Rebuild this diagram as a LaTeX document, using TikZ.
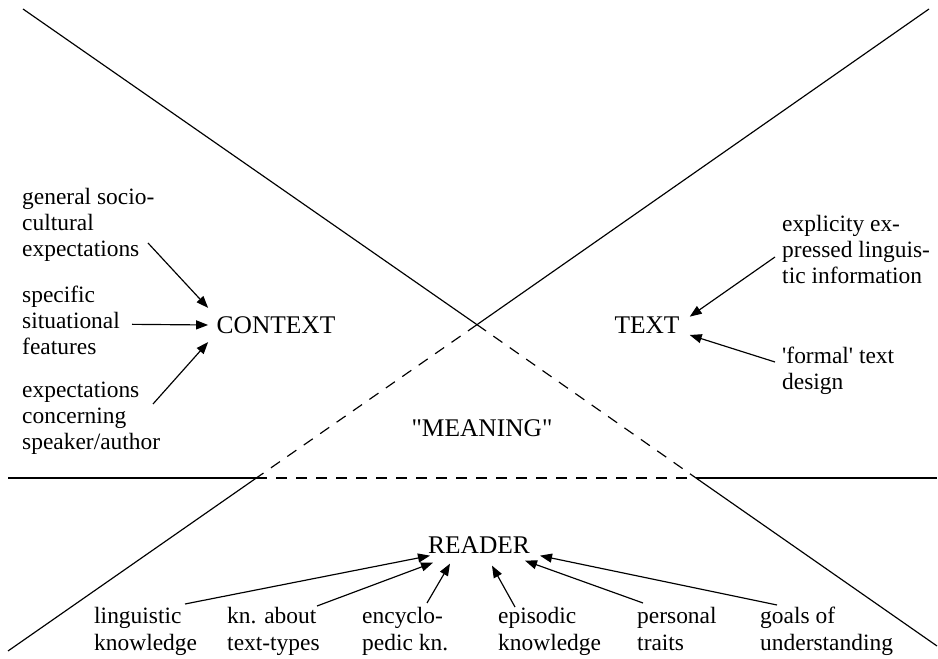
\documentclass[tikz,border=0pt]{standalone}
\usepackage{fontspec}
\setmainfont{Liberation Serif}
\usetikzlibrary{arrows.meta}

\begin{document}
\begin{tikzpicture}[
        lbl/.style={align=left, inner sep=0, anchor=base west, font=\fontsize{20}{22.2}\selectfont},
        big/.style={inner sep=0.25cm, font=\fontsize{21.7}{24}\selectfont},
        arr/.style={line width=1pt, -{Triangle[length=0.36cm, width=0.27cm]}},
        ln/.style={line width=1pt},
        dsh/.style={line width=1pt, dash pattern=on 0.33cm off 0.27cm}
    ]
    \useasboundingbox (0, 0) rectangle (28.14, 19.74);

    % the crossing lines
    \coordinate (tl) at (0.69, 19.47);  \coordinate (br) at (28.11, 0.36);
    \coordinate (tr) at (27.87, 19.47); \coordinate (bl) at (0.24, 0.21);
    \coordinate (hl) at (0.24, 5.4);    \coordinate (hr) at (28.11, 5.4);
    \coordinate (m) at (14.31, 10.0);   % top of the triangle
    \coordinate (a) at (7.69, 5.4);     \coordinate (b) at (20.88, 5.4);

    \draw[ln] (tl) -- (m); \draw[dsh] (m) -- (b); \draw[ln] (b) -- (br);
    \draw[ln] (tr) -- (m); \draw[dsh] (m) -- (a); \draw[ln] (a) -- (bl);
    \draw[ln] (hl) -- (a); \draw[dsh] (a) -- (b); \draw[ln] (b) -- (hr);

    \node[big] (context) at (8.28, 9.99) {CONTEXT};
    \node[big] (text) at (19.41, 9.99) {TEXT};
    \node[big] (meaning) at (14.46, 6.9) {\textquotedbl MEANING\textquotedbl};
    \node[big] (reader) at (14.37, 3.39) {READER};

    % context (labels sit on their last line)
    \node[lbl] (gen) at (0.66, 12.03) {general socio-\\cultural\\expectations};
    \node[lbl] (spec) at (0.66, 9.09) {specific\\situational\\features};
    \node[lbl] (expe) at (0.66, 6.24) {expectations\\concerning\\speaker/author};
    \draw[arr] ([shift={(3.78, 0.42)}]gen.base west) -- (context.north west);
    \draw[arr] ([shift={(3.3, 0.92)}]spec.base west) -- (context.west);
    \draw[arr] ([shift={(3.93, 1.38)}]expe.base west) -- (context.south west);

    % text
    \node[lbl] (expl) at (23.46, 11.22) {explicity ex-\\pressed linguis-\\tic information};
    \node[lbl] (form) at (23.46, 8.04) {\textquotesingle formal\textquotesingle{} text\\design};
    \draw[arr] ([shift={(-0.21, 0.81)}]expl.base west) -- ([shift={(0.05, 0.25)}]text.east);
    \draw[arr] ([shift={(-0.21, 0.84)}]form.base west) -- ([shift={(0.05, -0.3)}]text.east);

    % reader
    \node[lbl] (ling) at (2.82, 0.24) {linguistic\\knowledge};
    \node[lbl] (kntt) at (6.81, 0.24) {kn. about\\text-types};
    \node[lbl] (ency) at (10.86, 0.24) {encyclo-\\pedic kn.};
    \node[lbl] (epis) at (14.94, 0.24) {episodic\\knowledge};
    \node[lbl] (pers) at (19.11, 0.24) {personal\\traits};
    \node[lbl] (goal) at (22.8, 0.24) {goals of\\understanding};
    \draw[arr] ([shift={(2.73, 1.38)}]ling.base west) -- ([shift={(-1.47, 0.19)}]reader.south);
    \draw[arr] ([shift={(2.7, 1.32)}]kntt.base west) -- ([shift={(-1.38, -0.02)}]reader.south);
    \draw[arr] ([shift={(1.95, 1.41)}]ency.base west) -- ([shift={(-0.87, -0.05)}]reader.south);
    \draw[arr] ([shift={(0.51, 1.29)}]epis.base west) -- ([shift={(0.39, -0.11)}]reader.south);
    \draw[arr] ([shift={(0.18, 1.41)}]pers.base west) -- ([shift={(1.38, 0.04)}]reader.south);
    \draw[arr] ([shift={(0.51, 1.35)}]goal.base west) -- ([shift={(1.83, 0.19)}]reader.south);
\end{tikzpicture}
\end{document}
